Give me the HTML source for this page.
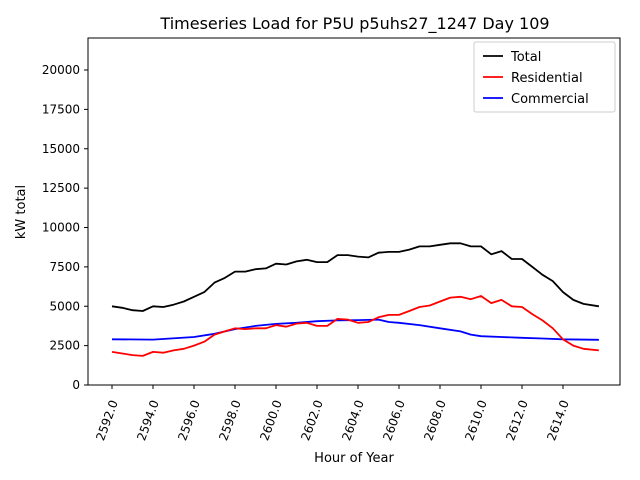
<!DOCTYPE html>
<html><head><meta charset="utf-8"><style>body{margin:0;background:#fff}svg{display:block;font-family:"DejaVu Sans","Liberation Sans",sans-serif}</style></head>
<body>
<svg id="s" width="640" height="480" xmlns="http://www.w3.org/2000/svg">
<rect width="640" height="480" fill="#fff"/>
<text x="355" y="29" font-size="16" text-anchor="middle">Timeseries Load for P5U p5uhs27_1247  Day 109</text>
<g id="series"></g>
<rect x="88" y="38" width="532" height="347" fill="none" stroke="#000" stroke-width="1"/>
<g id="ax" font-size="12"></g>
<text x="354" y="462" font-size="13" text-anchor="middle">Hour of Year</text>
<text transform="translate(25,212) rotate(-90)" font-size="13" text-anchor="middle">kW total</text>
<rect x="474" y="42" width="141" height="70" fill="#fff" stroke="#ccc" rx="2"/>
<line x1="483" y1="56" x2="503" y2="56" stroke="#000" stroke-width="1.8"/>
<text x="511" y="61" font-size="13">Total</text>
<line x1="483" y1="77" x2="503" y2="77" stroke="red" stroke-width="1.8"/>
<text x="511" y="82" font-size="13">Residential</text>
<line x1="483" y1="98" x2="503" y2="98" stroke="blue" stroke-width="1.8"/>
<text x="511" y="103" font-size="13">Commercial</text>
</svg>
<script>
var NS="http://www.w3.org/2000/svg";
function px(h){return 112+(h-2592)*20.5}
function py(v){return 385-v*0.01575}
var T=[[2592,5000],[2592.5,4900],[2593,4750],[2593.5,4700],[2594,5000],[2594.5,4950],[2595,5100],[2595.5,5300],[2596,5600],[2596.5,5900],[2597,6500],[2597.5,6800],[2598,7200],[2598.5,7200],[2599,7350],[2599.5,7400],[2600,7700],[2600.5,7650],[2601,7850],[2601.5,7950],[2602,7800],[2602.5,7800],[2603,8250],[2603.5,8250],[2604,8150],[2604.5,8100],[2605,8400],[2605.5,8450],[2606,8450],[2606.5,8600],[2607,8800],[2607.5,8800],[2608,8900],[2608.5,9000],[2609,9000],[2609.5,8800],[2610,8800],[2610.5,8300],[2611,8500],[2611.5,8000],[2612,8000],[2612.5,7500],[2613,7000],[2613.5,6600],[2614,5900],[2614.5,5400],[2615,5150],[2615.75,5000]];
var R=[[2592,2100],[2592.5,2000],[2593,1900],[2593.5,1850],[2594,2100],[2594.5,2050],[2595,2200],[2595.5,2300],[2596,2500],[2596.5,2750],[2597,3200],[2597.5,3400],[2598,3600],[2598.5,3550],[2599,3600],[2599.5,3600],[2600,3800],[2600.5,3700],[2601,3900],[2601.5,3950],[2602,3750],[2602.5,3750],[2603,4200],[2603.5,4150],[2604,3950],[2604.5,4000],[2605,4300],[2605.5,4450],[2606,4450],[2606.5,4700],[2607,4950],[2607.5,5050],[2608,5300],[2608.5,5550],[2609,5600],[2609.5,5450],[2610,5650],[2610.5,5200],[2611,5400],[2611.5,5000],[2612,4950],[2612.5,4500],[2613,4100],[2613.5,3600],[2614,2900],[2614.5,2500],[2615,2300],[2615.75,2200]];
var C=[[2592,2900],[2594,2880],[2596,3050],[2597,3250],[2598,3550],[2599,3750],[2600,3880],[2601,3950],[2602,4050],[2603,4100],[2604,4120],[2605,4150],[2605.5,4000],[2606,3950],[2607,3800],[2608,3600],[2609,3400],[2609.5,3200],[2610,3100],[2611,3050],[2612,3000],[2613,2950],[2614,2900],[2615.75,2870]];
var g=document.getElementById("series");
[[C,"blue"],[R,"red"],[T,"#000"]].forEach(function(s){var p=document.createElementNS(NS,"polyline");p.setAttribute("points",s[0].map(function(d){return px(d[0]).toFixed(1)+","+py(d[1]).toFixed(1)}).join(" "));p.setAttribute("fill","none");p.setAttribute("stroke",s[1]);p.setAttribute("stroke-width","1.8");p.setAttribute("stroke-linejoin","round");g.appendChild(p);});
var ax=document.getElementById("ax"),h="";
for(var v=0;v<=20000;v+=2500){var y=py(v);h+='<line x1="84" y1="'+y+'" x2="88" y2="'+y+'" stroke="#000"/><text x="80" y="'+(y+4)+'" text-anchor="end">'+v+'</text>';}
for(var k=2592;k<=2614;k+=2){var x=px(k);h+='<line x1="'+x+'" y1="385" x2="'+x+'" y2="389" stroke="#000"/><text transform="translate('+(x+6)+',402) rotate(-70)" text-anchor="end">'+k+'.0</text>';}
ax.innerHTML=h;
</script>
</body></html>
